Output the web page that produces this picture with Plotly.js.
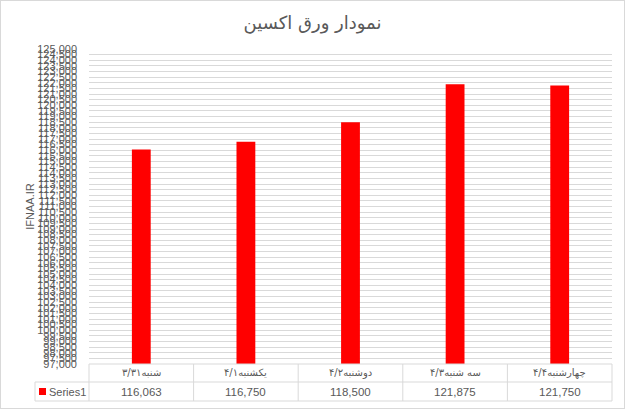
<!DOCTYPE html>
<html>
<head>
<meta charset="utf-8">
<script src="https://cdn.plot.ly/plotly-3.0.1.min.js"></script>
<style>
html,body{margin:0;padding:0;background:#fff;}
#wrap{width:625px;height:409px;box-sizing:border-box;border:1px solid #d9d9d9;position:relative;overflow:hidden;}
#chart{position:absolute;left:-1px;top:-1px;width:625px;height:409px;}
</style>
</head>
<body>
<div id="wrap"><div id="chart"></div></div>
<script>
const categories = ["شنبه۳/۳۱", "یکشنبه۴/۱", "دوشنبه۴/۲", "سه شنبه۴/۳", "چهارشنبه۴/۴"];
const series1 = [116063, 116750, 118500, 121875, 121750];
const valueLabels = ["116,063", "116,750", "118,500", "121,875", "121,750"];
const seriesName = "Series1";
const chartTitle = "نمودار ورق اکسین";
const yTitle = "IFNAA.IR";

const W = 625, H = 409;
const mL = 89, mR = 13, mT = 49, mB = 45;
const plotW = W - mL - mR, plotH = H - mT - mB;
function pyOf(pix){ return ((H - mB) - pix) / plotH; }
function pxOf(pix){ return (pix - mL) / plotW; }

const gray = "#595959";
const lineC = "#d9d9d9";
const row1Top = H - mB, row1Bot = 382, row2Bot = 401;
const legLeft = 35;

const shapes = [];
function line(x0,y0,x1,y1){
  shapes.push({type:"line", xref:"paper", yref:"paper", x0:x0, y0:y0, x1:x1, y1:y1,
    line:{color:lineC, width:1}});
}
line(0, pyOf(row1Top), 1, pyOf(row1Top));
line(pxOf(legLeft), pyOf(row1Bot), 1, pyOf(row1Bot));
line(pxOf(legLeft), pyOf(row2Bot), 1, pyOf(row2Bot));
for (let i = 0; i <= categories.length; i++) {
  const xp = i / categories.length;
  line(xp, pyOf(row1Top), xp, pyOf(row2Bot));
}
line(pxOf(legLeft), pyOf(row1Bot), pxOf(legLeft), pyOf(row2Bot));
shapes.push({type:"rect", xref:"paper", yref:"paper",
  x0:pxOf(39), x1:pxOf(46), y0:pyOf(395), y1:pyOf(388),
  fillcolor:"#ff0000", line:{width:0}});

const annotations = [];
categories.forEach((c, i) => {
  annotations.push({x:c, xref:"x", y:pyOf((row1Top+row1Bot)/2), yref:"paper",
    text:c, showarrow:false, xanchor:"center", yanchor:"middle",
    font:{family:"DejaVu Sans", size:10, color:gray}});
  annotations.push({x:c, xref:"x", y:pyOf((row1Bot+row2Bot)/2), yref:"paper",
    text:valueLabels[i], showarrow:false, xanchor:"center", yanchor:"middle",
    font:{family:"Liberation Sans", size:11.5, color:gray}});
});
annotations.push({x:pxOf(47), xref:"paper", y:pyOf((row1Bot+row2Bot)/2), yref:"paper",
  text:seriesName, showarrow:false, xanchor:"left", yanchor:"middle",
  font:{family:"Liberation Sans", size:11, color:gray}});

const data = [{
  type:"bar", x:categories, y:series1, name:seriesName,
  marker:{color:"#ff0000", line:{width:0}},
  hoverinfo:"none"
}];

const layout = {
  width:W, height:H,
  margin:{l:mL, r:mR, t:mT, b:mB, pad:0},
  paper_bgcolor:"rgba(0,0,0,0)", plot_bgcolor:"rgba(0,0,0,0)",
  showlegend:false,
  bargap:0.82,
  title:{text:chartTitle, x:0.5, xanchor:"center", y:1-23/H, yanchor:"middle",
    font:{family:"DejaVu Sans", size:18, color:gray}},
  xaxis:{type:"category", showticklabels:false, showgrid:false, zeroline:false,
    showline:false, ticks:"", fixedrange:true},
  yaxis:{range:[97000,125000], dtick:500, tick0:97000, tickformat:",d",
    showgrid:true, gridcolor:lineC, gridwidth:1, zeroline:false, showline:false,
    ticks:"", ticklabelstandoff:11,
    tickfont:{family:"Liberation Sans", size:11, color:gray},
    title:{text:yTitle, standoff:0, font:{family:"Liberation Sans", size:11, color:gray}},
    automargin:false, fixedrange:true},
  shapes:shapes,
  annotations:annotations
};

Plotly.newPlot("chart", data, layout, {staticPlot:true, displayModeBar:false});
</script>
</body>
</html>
